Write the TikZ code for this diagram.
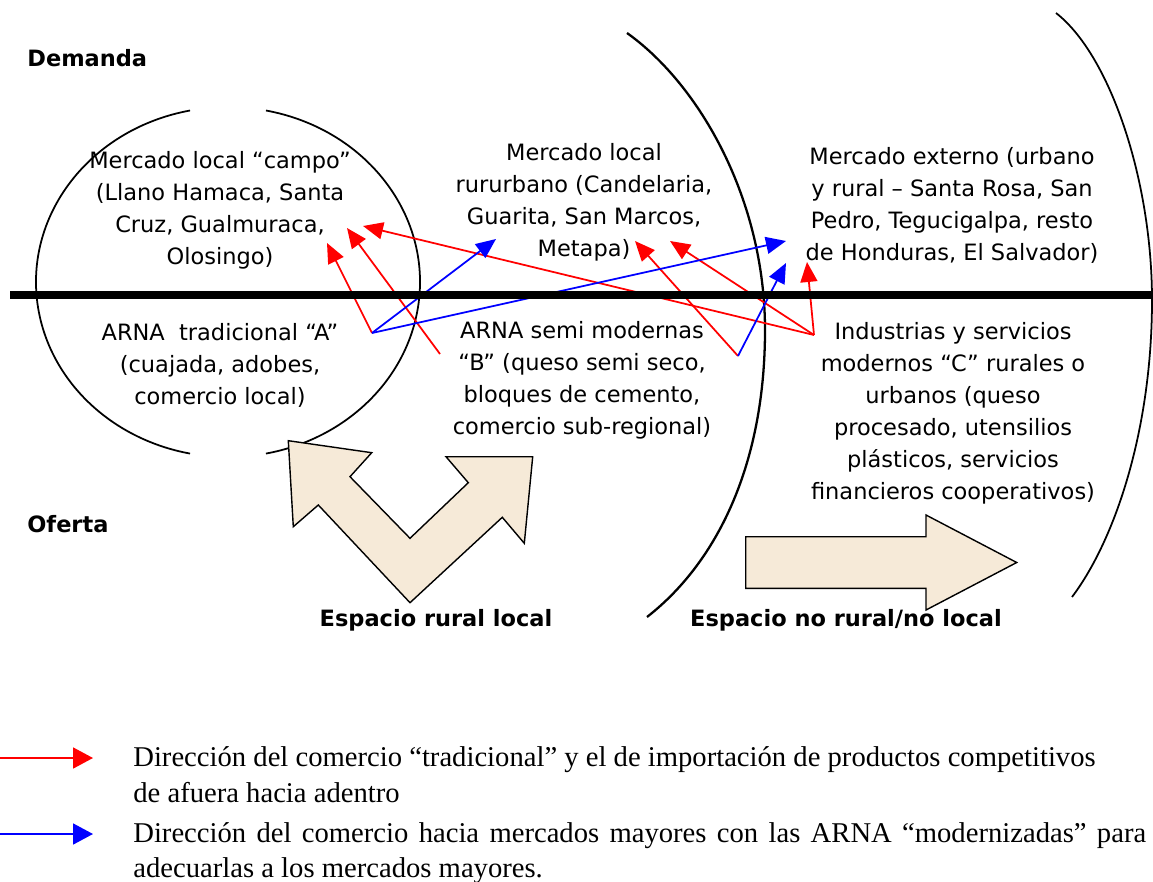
\documentclass[tikz,border=0pt]{standalone}
\usepackage{fontspec}
\setmainfont{DejaVu Sans}
\newfontfamily\notefont{Liberation Serif}
\usetikzlibrary{arrows.meta}
\definecolor{sand}{RGB}{246,234,216}
\definecolor{redflow}{RGB}{255,0,0}
\definecolor{blueflow}{RGB}{0,0,255}
\tikzset{
  >={Triangle[length=4mm,width=3.4mm]},
  market/.style={font=\fontsize{12.8}{18.2}\selectfont,align=center,inner sep=0pt},
  tag/.style={font=\fontsize{12.8}{15}\selectfont\bfseries,inner sep=0pt},
  flow/.style={->,line width=1pt,draw=#1},
  flow/.default=redflow,
  rim/.style={line width=1pt},
  big arrow/.style={draw,fill=sand,line width=0.8pt},
  note/.style={font=\notefont\fontsize{16.3}{20.3}\selectfont,align=left,inner sep=0pt},
}
\begin{document}
\begin{tikzpicture}[x=0.02cm,y=-0.02cm]
\useasboundingbox (0,0) rectangle (1153,882);
% local space (open circle)
\draw[rim] (190.05,110.5) arc[start angle=258.6,end angle=101.4,x radius=192,y radius=175];
\draw[rim] (265.95,110.5) arc[start angle=281.4,end angle=438.6,x radius=192,y radius=175];
% boundaries of the outer spaces
\draw[rim,line width=1.3pt] (627,33) .. controls (700,85) and (765,200) .. (765,330)
  .. controls (765,460) and (720,560) .. (647,617);
\draw[rim] (1056,13) .. controls (1110,55) and (1152,180) .. (1152,300)
  .. controls (1152,430) and (1115,540) .. (1072,597);

\node[tag,anchor=west] (demanda) at (27,58) {Demanda};
\node[tag,anchor=west] (oferta) at (27,524) {Oferta};

\node[market] (mktA) at (220,210) {Mercado local “campo”\\(Llano Hamaca, Santa\\Cruz, Gualmuraca,\\Olosingo)};
\node[market] (arnaA) at (220,365) {ARNA\ \ tradicional “A”\\(cuajada, adobes,\\comercio local)};
\node[market] (mktB) at (584,202) {Mercado local\\rururbano (Candelaria,\\Guarita, San Marcos,\\Metapa)};
\node[market] (arnaB) at (582,380) {ARNA semi modernas\\“B” (queso semi seco,\\bloques de cemento,\\comercio sub-regional)};
\node[market] (mktC) at (952,205) {Mercado externo (urbano\\y rural – Santa Rosa, San\\Pedro, Tegucigalpa, resto\\de Honduras, El Salvador)};
\node[market] (indC) at (953,413) {Industrias y servicios\\modernos “C” rurales o\\urbanos (queso\\procesado, utensilios\\plásticos, servicios\\financieros cooperativos)};

% trade flows
\coordinate (srcA) at (372,333);
\coordinate (srcA2) at (440,354);
\coordinate (srcB) at (738,356);
\coordinate (srcC) at (814,335);
\coordinate (inA1) at (327,243);
\coordinate (inA2) at (347,228);
\coordinate (inA3) at (363,226);
\coordinate (inB1) at (635,241);
\coordinate (inB2) at (670,241);
\coordinate (inC) at (807,262);
\coordinate (outB) at (496,239);
\coordinate (outC1) at (786,241);
\coordinate (outC2) at (786,263);
\foreach \s/\t in {srcA/inA1,srcA2/inA2,srcC/inA3,srcB/inB1,srcC/inB2,srcC/inC}
  \draw[flow] (\s) -- (\t);
\foreach \s/\t in {srcA/outB,srcA/outC1,srcB/outC2}
  \draw[flow=blueflow] (\s) -- (\t);

\coordinate (divL) at (10,295);
\coordinate (divR) at (1153,295);
\draw[line width=4.3pt] (divL) -- (divR);

% block arrows
\draw[big arrow] (288.3,440.7) -- (371.7,452.7) -- (350,476.7) -- (410,538.3) -- (468.3,482.7)
  -- (446,456.7) -- (532.7,456.7) -- (524.3,543.3) -- (502.3,517.3) -- (410,602.7)
  -- (318.3,505) -- (293.3,526.7) -- cycle;
\draw[big arrow] (745.7,536.7) -- (926,536.7) -- (926,515) -- (1016.7,562.5) -- (926,610)
  -- (926,588.3) -- (745.7,588.3) -- cycle;
\node[tag] (rural) at (436,620) {Espacio rural local};
\node[tag] (norural) at (846,620) {Espacio no rural/no local};

% legend
\coordinate (keyR0) at (0,758);
\coordinate (keyR1) at (93,758);
\coordinate (keyB0) at (0,834);
\coordinate (keyB1) at (93,834);
\draw[flow,-{Triangle[length=4mm,width=4.2mm]}] (keyR0) -- (keyR1);
\draw[flow=blueflow,-{Triangle[length=4mm,width=4.2mm]}] (keyB0) -- (keyB1);
\node[note,anchor=base west] (noteR) at (133,802) {Dirección del comercio “tradicional” y el de importación de productos competitivos\\de afuera hacia adentro};
\node[note,anchor=base west,align=justify,text width=20.26cm] (noteB) at (133,842) {Dirección del comercio hacia mercados mayores con las ARNA “modernizadas” para adecuarlas a los mercados mayores.};
\end{tikzpicture}
\end{document}
